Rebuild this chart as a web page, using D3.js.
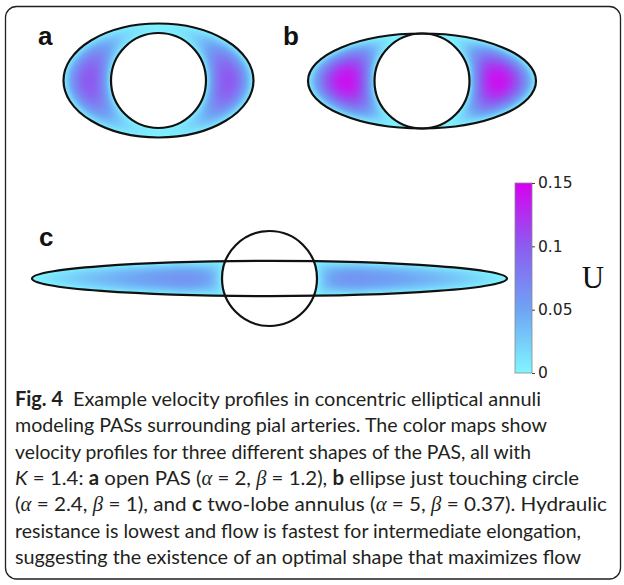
<!DOCTYPE html>
<html>
<head>
<meta charset="utf-8">
<script src="https://cdn.jsdelivr.net/npm/d3@7"></script>
<style>
  body { margin: 0; background: #fff; }
  svg { display: block; }
</style>
</head>
<body>
<div id="fig"></div>
<script>
// PAS shapes: outer ellipse semi-axes (alpha, beta) around an artery of radius 1
var panelNames = ["a", "b", "c"];
var alphas = [2, 2.4, 5];
var betas = [1.2, 1, 0.37];
var Kvalue = 1.4;

// color bar for U
var colorDomain = [0, 0.05, 0.1, 0.15];
var colorRange = ["#80f6ff", "#6ea4f4", "#8c5cf0", "#d800f0"];
var colorTicks = [0, 0.05, 0.1, 0.15];
var tickLabels = ["0", "0.05", "0.1", "0.15"];
var colorLabel = "U";

// layout
var W = 624, H = 585;
var R = 47.5; // pixels per artery radius
var centers = [[158.5, 80.5], [422, 81], [269.5, 278.5]];
var labelPos = [[38, 45], [283, 45], [39, 246]];

var svg = d3.select("#fig").append("svg")
   .attr("width", W)
   .attr("height", H);

// frame
svg.append("rect")
   .attr("x", 5.5).attr("y", 6.5)
   .attr("width", 615).attr("height", 572.5)
   .attr("rx", 11)
   .attr("fill", "none")
   .attr("stroke", "#231f20")
   .attr("stroke-width", 1.3);

var color = d3.scaleLinear().domain(colorDomain).range(colorRange).clamp(true);

// velocity in the annulus: lap(u) = -1, u = 0 on artery wall and outer wall
function solveField(alpha, beta, xs, ys) {
   var x0 = Math.floor(xs(-alpha)) - 1, x1 = Math.ceil(xs(alpha)) + 1;
   var y0 = Math.floor(ys(beta)) - 1, y1 = Math.ceil(ys(-beta)) + 1;
   var nx = x1 - x0, ny = y1 - y0;
   var u = new Float64Array(nx * ny);
   var cells = [];
   for (var j = 1; j < ny - 1; j++) {
      for (var i = 1; i < nx - 1; i++) {
         var X = xs.invert(x0 + i + 0.5), Y = ys.invert(y0 + j + 0.5);
         var e = (X / alpha) * (X / alpha) + (Y / beta) * (Y / beta);
         if (e < 1 && X * X + Y * Y > 1) cells.push(j * nx + i);
      }
   }
   var h = xs.invert(1) - xs.invert(0);
   var h2 = h * h, w = 1.93;
   for (var it = 0; it < 1600; it++) {
      for (var k = 0; k < cells.length; k++) {
         var c = cells[k];
         var g = (u[c - 1] + u[c + 1] + u[c - nx] + u[c + nx] + h2) / 4;
         u[c] += w * (g - u[c]);
      }
   }
   return {x0: x0, y0: y0, nx: nx, ny: ny, u: u, cells: cells};
}

panelNames.forEach(function(name, p) {
   var alpha = alphas[p], beta = betas[p];
   var cx = centers[p][0], cy = centers[p][1];
   var xs = d3.scaleLinear().domain([-1, 1]).range([cx - R, cx + R]);
   var ys = d3.scaleLinear().domain([-1, 1]).range([cy + R, cy - R]);

   var f = solveField(alpha, beta, xs, ys);
   var canvas = document.createElement("canvas");
   canvas.width = f.nx; canvas.height = f.ny;
   var ctx = canvas.getContext("2d");
   var img = ctx.createImageData(f.nx, f.ny);
   f.cells.forEach(function(c) {
      var col = d3.rgb(color(f.u[c]));
      img.data[c * 4] = col.r;
      img.data[c * 4 + 1] = col.g;
      img.data[c * 4 + 2] = col.b;
      img.data[c * 4 + 3] = 255;
   });
   ctx.putImageData(img, 0, 0);

   var g = svg.append("g").attr("class", "panel");
   g.append("image")
      .attr("href", canvas.toDataURL())
      .attr("x", f.x0).attr("y", f.y0)
      .attr("width", f.nx).attr("height", f.ny);

   g.append("ellipse")
      .attr("cx", xs(0)).attr("cy", ys(0))
      .attr("rx", xs(alpha) - xs(0)).attr("ry", ys(0) - ys(beta))
      .attr("fill", "none").attr("stroke", "#111").attr("stroke-width", 2.2);
   g.append("ellipse")
      .attr("cx", xs(0)).attr("cy", ys(0))
      .attr("rx", xs(1) - xs(0)).attr("ry", ys(0) - ys(1))
      .attr("fill", "none").attr("stroke", "#111").attr("stroke-width", 2.2);

   svg.append("text")
      .attr("x", labelPos[p][0]).attr("y", labelPos[p][1])
      .attr("font-family", "Liberation Sans, Arial, sans-serif")
      .attr("font-weight", "bold")
      .attr("font-size", 26)
      .attr("fill", "#111")
      .text(name);
});

// color bar
var barX = 515, barW = 17;
var yC = d3.scaleLinear().domain([0, 0.15]).range([373, 183]);
var grad = svg.append("defs").append("linearGradient")
   .attr("id", "ugrad")
   .attr("x1", 0).attr("y1", 1).attr("x2", 0).attr("y2", 0);
grad.selectAll("stop")
   .data(colorDomain)
   .enter().append("stop")
   .attr("offset", function(d) { return d / 0.15; })
   .attr("stop-color", function(d) { return color(d); });

svg.append("rect")
   .attr("x", barX).attr("y", yC(0.15))
   .attr("width", barW).attr("height", yC(0) - yC(0.15))
   .attr("fill", "url(#ugrad)")
   .attr("stroke", "#8a8a8a").attr("stroke-width", 0.8);

var axis = svg.append("g")
   .attr("transform", "translate(" + (barX + barW) + ",0)")
   .call(d3.axisRight(yC)
      .tickValues(colorTicks)
      .tickFormat(function(d, i) { return tickLabels[i]; })
      .tickSize(3)
      .tickPadding(3));
axis.select(".domain").remove();
axis.selectAll("line").attr("stroke", "#444");
axis.selectAll("text")
   .attr("font-family", "DejaVu Sans, sans-serif")
   .attr("font-size", 15.5)
   .attr("fill", "#222");

svg.append("text")
   .attr("x", 593).attr("y", 288)
   .attr("text-anchor", "middle")
   .attr("font-family", "Liberation Serif, Times New Roman, serif")
   .attr("font-size", 31)
   .attr("fill", "#111")
   .text(colorLabel);

// caption
var captionLines = [
   [["Fig. 4", "b"], ["\u2002Example velocity profiles in concentric elliptical annuli", ""]],
   [["modeling PASs surrounding pial arteries. The color maps show", ""]],
   [["velocity profiles for three different shapes of the PAS, all with", ""]],
   [["K", "i"], [" = " + Kvalue + ": ", ""], ["a", "b"], [" open PAS (", ""], ["\u03b1", "m"], [" = " + alphas[0] + ", ", ""], ["\u03b2", "m"], [" = " + betas[0] + "), ", ""], ["b", "b"], [" ellipse just touching circle", ""]],
   [["(", ""], ["\u03b1", "m"], [" = " + alphas[1] + ", ", ""], ["\u03b2", "m"], [" = " + betas[1] + "), and ", ""], ["c", "b"], [" two-lobe annulus (", ""], ["\u03b1", "m"], [" = " + alphas[2] + ", ", ""], ["\u03b2", "m"], [" = " + betas[2] + "). Hydraulic", ""]],
   [["resistance is lowest and flow is fastest for intermediate elongation,", ""]],
   [["suggesting the existence of an optimal shape that maximizes flow", ""]]
];
var lineEnds = [541, 547, 531, 579, 607, 581, 581];
var capX = 15, capY0 = 406, capStep = 26.3;

captionLines.forEach(function(line, i) {
   var t = svg.append("text")
      .attr("x", capX).attr("y", capY0 + i * capStep)
      .attr("font-family", "Lato, sans-serif")
      .attr("font-size", 20)
      .attr("fill", "#231f20");
   line.forEach(function(seg) {
      var s = t.append("tspan").text(seg[0]);
      if (seg[1] == "b") s.attr("font-weight", "bold");
      if (seg[1] == "i") s.attr("font-style", "italic");
      if (seg[1] == "m") s.attr("font-style", "italic").attr("font-family", "Liberation Serif, serif");
   });
   t.attr("textLength", lineEnds[i] - capX).attr("lengthAdjust", "spacingAndGlyphs");
});
</script>
</body>
</html>
